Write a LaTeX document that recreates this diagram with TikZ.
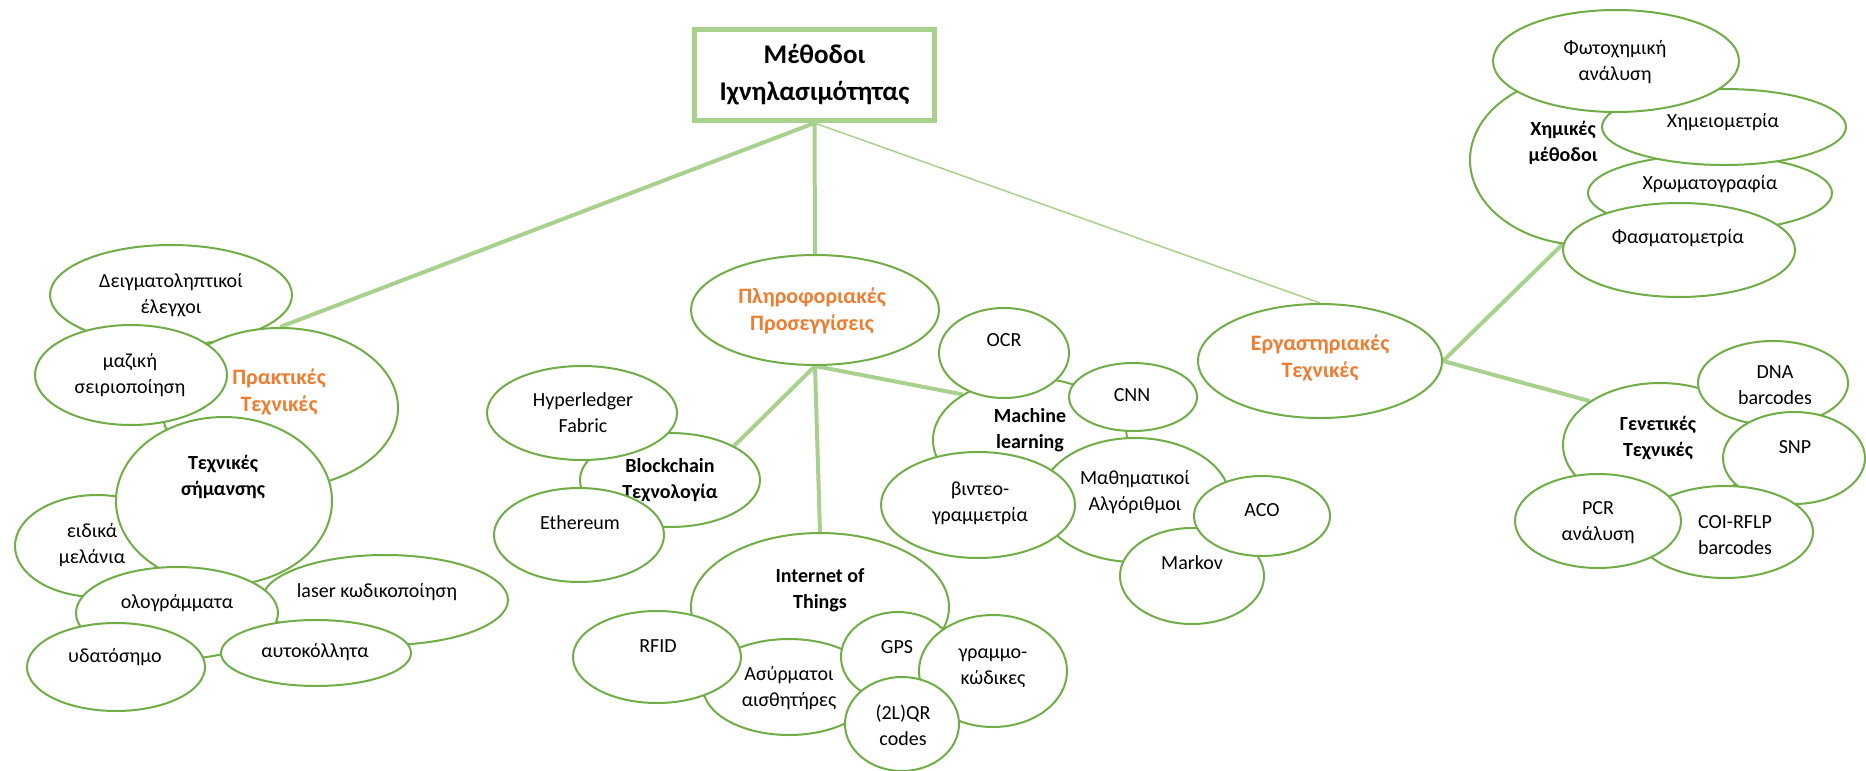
\documentclass[tikz,border=0pt]{standalone}
\usepackage{fontspec}
\setmainfont{Carlito}
\usetikzlibrary{shapes.geometric,backgrounds}

\definecolor{bubgreen}{HTML}{70AD47}
\definecolor{linkgreen}{HTML}{A9D18E}
\definecolor{headorange}{HTML}{ED7D31}

\tikzset{
	bubble/.style={shape=ellipse, draw=bubgreen, line width=2pt, fill=white, inner sep=0pt},
	txt/.style={align=center, inner sep=0pt, font=\fontsize{20}{26}\selectfont},
	sub/.style={txt, font=\fontsize{20}{26}\selectfont\bfseries},
	head/.style={txt, text=headorange, font=\fontsize{22}{27}\selectfont\bfseries},
	link/.style={draw=linkgreen, line width=4pt},
}

\begin{document}
\begin{tikzpicture}[x=1pt, y=-1pt]
	\useasboundingbox (0,0) rectangle (1866,771);

	\node[shape=rectangle, draw=linkgreen, line width=5pt, fill=white, minimum width=240pt, minimum height=91pt, align=center, font=\fontsize{27}{37}\selectfont\bfseries] (root) at (814.5,75) {Μέθοδοι\\Ιχνηλασιμότητας};

	% praktikes
	\node[bubble, minimum width=242pt, minimum height=100pt] (deig) at (171,295) {};
	\node[txt] (deig-t) at (171,295) {Δειγματοληπτικοί\\έλεγχοι};
	\node[bubble, minimum width=236pt, minimum height=160pt] (prakt) at (280,408) {};
	\node[head] (prakt-t) at (279,392) {Πρακτικές\\Τεχνικές};
	\node[bubble, minimum width=192pt, minimum height=100pt] (maz) at (131,375) {};
	\node[txt] (maz-t) at (130,375) {μαζική\\σειριοποίηση};
	\node[bubble, minimum width=246pt, minimum height=90pt] (laser) at (385,600) {};
	\node[txt] (laser-t) at (377,592) {laser κωδικοποίηση};
	\node[bubble, minimum width=164pt, minimum height=102pt] (eid) at (97,546) {};
	\node[txt] (eid-t) at (92,545) {ειδικά\\μελάνια};
	\node[bubble, minimum width=216pt, minimum height=168pt] (sim) at (224,501) {};
	\node[sub] (sim-t) at (223,477) {Τεχνικές\\σήμανσης};
	\node[bubble, minimum width=202pt, minimum height=92pt] (olog) at (177,613) {};
	\node[txt] (olog-t) at (177,603) {ολογράμματα};
	\node[bubble, minimum width=178pt, minimum height=88pt] (ydat) at (116,667) {};
	\node[txt] (ydat-t) at (115,657) {υδατόσημο};
	\node[bubble, minimum width=190pt, minimum height=66pt] (auto) at (316,653) {};
	\node[txt] (auto-t) at (315,652) {αυτοκόλλητα};

	% pliroforiakes
	\node[bubble, minimum width=248pt, minimum height=110pt] (plir) at (815,310) {};
	\node[head] (plir-t) at (812,311) {Πληροφοριακές\\Προσεγγίσεις};
	\node[bubble, minimum width=180pt, minimum height=94pt] (blk) at (670,480) {};
	\node[sub] (blk-t) at (670,480) {Blockchain\\Τεχνολογία};
	\node[bubble, minimum width=190pt, minimum height=94pt] (hyp) at (582,413) {};
	\node[txt] (hyp-t) at (583,413) {Hyperledger\\Fabric};
	\node[bubble, minimum width=170pt, minimum height=94pt] (eth) at (579,535) {};
	\node[txt] (eth-t) at (580,523) {Ethereum};

	\node[bubble, minimum width=258pt, minimum height=148pt] (iot) at (820,607) {};
	\node[sub] (iot-t) at (820,590) {Internet of\\Things};
	\node[bubble, minimum width=172pt, minimum height=96pt] (asy) at (789,687) {};
	\node[txt] (asy-t) at (789,688) {Ασύρματοι\\αισθητήρες};
	\node[bubble, minimum width=168pt, minimum height=92pt] (rfid) at (657,657) {};
	\node[txt] (rfid-t) at (658,646) {RFID};
	\node[bubble, minimum width=114pt, minimum height=90pt] (gps) at (898,657) {};
	\node[txt] (gps-t) at (897,647) {GPS};
	\node[bubble, minimum width=148pt, minimum height=112pt] (gram) at (993,671) {};
	\node[txt] (gram-t) at (993,668) {γραμμο-\\κώδικες};
	\node[bubble, minimum width=114pt, minimum height=94pt] (qr) at (902,724) {};
	\node[txt] (qr-t) at (903,725) {(2L)QR\\codes};

	\node[bubble, minimum width=194pt, minimum height=124pt] (ml) at (1030,440) {};
	\node[sub] (ml-t) at (1030,430) {Machine\\learning};
	\node[bubble, minimum width=130pt, minimum height=90pt] (ocr) at (1004,353) {};
	\node[txt] (ocr-t) at (1004,340) {OCR};
	\node[bubble, minimum width=128pt, minimum height=68pt] (cnn) at (1133,397) {};
	\node[txt] (cnn-t) at (1132,395) {CNN};
	\node[bubble, minimum width=190pt, minimum height=124pt] (math) at (1135,500) {};
	\node[txt] (math-t) at (1135,492) {Μαθηματικοί\\Αλγόριθμοι};
	\node[bubble, minimum width=194pt, minimum height=106pt] (vid) at (978,505) {};
	\node[txt] (vid-t) at (980,503) {βιντεο-\\γραμμετρία};
	\node[bubble, minimum width=144pt, minimum height=96pt] (markov) at (1192,576) {};
	\node[txt] (markov-t) at (1192,563) {Markov};
	\node[bubble, minimum width=136pt, minimum height=80pt] (aco) at (1262,516) {};
	\node[txt] (aco-t) at (1262,510) {ACO};

	% ergastiriakes
	\node[bubble, minimum width=244pt, minimum height=114pt] (erg) at (1320,361) {};
	\node[head] (erg-t) at (1320,358) {Εργαστηριακές\\Τεχνικές};
	\node[bubble, minimum width=230pt, minimum height=170pt] (xim) at (1585,160) {};
	\node[sub] (xim-t) at (1563,143) {Χημικές\\μέθοδοι};
	\node[bubble, minimum width=244pt, minimum height=76pt] (xrom) at (1710,193) {};
	\node[txt] (xrom-t) at (1710,184) {Χρωματογραφία};
	\node[bubble, minimum width=232pt, minimum height=94pt] (fasm) at (1679,250) {};
	\node[txt] (fasm-t) at (1678,238) {Φασματομετρία};
	\node[bubble, minimum width=244pt, minimum height=76pt] (ximeio) at (1724,127) {};
	\node[txt] (ximeio-t) at (1723,122) {Χημειομετρία};
	\node[bubble, minimum width=246pt, minimum height=102pt] (foto) at (1616,61) {};
	\node[txt] (foto-t) at (1615,62) {Φωτοχημική\\ανάλυση};

	\node[bubble, minimum width=194pt, minimum height=124pt] (gen) at (1660,445) {};
	\node[sub] (gen-t) at (1658,438) {Γενετικές\\Τεχνικές};
	\node[bubble, minimum width=150pt, minimum height=84pt] (dna) at (1773,383) {};
	\node[txt] (dna-t) at (1775,385) {DNA\\barcodes};
	\node[bubble, minimum width=142pt, minimum height=92pt] (snp) at (1794,458) {};
	\node[txt] (snp-t) at (1795,447) {SNP};
	\node[bubble, minimum width=176pt, minimum height=92pt] (coi) at (1725,532) {};
	\node[txt] (coi-t) at (1735,535) {COI-RFLP\\barcodes};
	\node[bubble, minimum width=166pt, minimum height=94pt] (pcr) at (1598,521) {};
	\node[txt] (pcr-t) at (1598,523) {PCR\\ανάλυση};

	\begin{pgfonlayer}{background}
		\draw[link] (root.south) -- (prakt.north);
		\draw[link] (root.south) -- (plir.north);
		\draw[link, line width=1.5pt] (root.south) -- (erg.north);
		\draw[link] (plir.south) -- (blk.28);
		\draw[link] (plir.south) -- (iot.north);
		\draw[link] (plir.south) -- (ml.146);
		\draw[link] (erg.east) -- (xim.255);
		\draw[link] (erg.east) -- (gen.148);
	\end{pgfonlayer}
\end{tikzpicture}
\end{document}
